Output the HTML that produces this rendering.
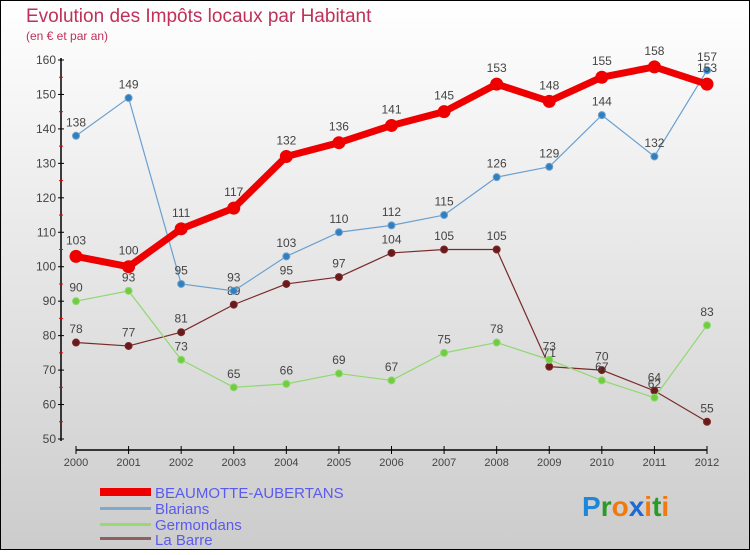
<!DOCTYPE html>
<html><head><meta charset="utf-8"><style>
body{margin:0;}
svg text{font-family:"Liberation Sans",sans-serif;}
</style></head><body>
<svg id="chart" width="750" height="550" xmlns="http://www.w3.org/2000/svg">
<defs><linearGradient id="bg" x1="0" y1="0" x2="0" y2="1"><stop offset="0" stop-color="#ffffff"/><stop offset="1" stop-color="#cccccc"/></linearGradient></defs>
<rect x="0.5" y="0.5" width="749" height="549" fill="url(#bg)" stroke="#000"/>
<text x="26" y="22" font-size="19" fill="#c0305a">Evolution des Impôts locaux par Habitant</text>
<text x="26" y="40" font-size="12" fill="#c0305a">(en € et par an)</text>
<g id="axes"></g>
<g id="series"></g>
<g>
<rect x="100" y="488" width="51" height="8" fill="#e00"/>
<text x="155" y="498" font-size="15" fill="#5a5af0">BEAUMOTTE-AUBERTANS</text>
<rect x="100" y="507" width="51" height="3" fill="#7aaad0"/>
<text x="155" y="514" font-size="15" fill="#5a5af0">Blarians</text>
<rect x="100" y="523" width="51" height="3" fill="#9ad870"/>
<text x="155" y="530" font-size="15" fill="#5a5af0">Germondans</text>
<rect x="100" y="537" width="51" height="3" fill="#906060"/>
<text x="155" y="545" font-size="15" fill="#5a5af0">La Barre</text>
</g>
<text x="582" y="516" font-size="28" font-weight="bold"><tspan fill="#1e88d8">P</tspan><tspan fill="#2a9a2a">r</tspan><tspan fill="#f07a10">o</tspan><tspan fill="#1e6ad0">x</tspan><tspan fill="#f07a10">i</tspan><tspan fill="#2a9a2a">t</tspan><tspan fill="#f07a10">i</tspan></text>
</svg>
<script>
const years=[2000,2001,2002,2003,2004,2005,2006,2007,2008,2009,2010,2011,2012];
const yTicks=[50,60,70,80,90,100,110,120,130,140,150,160];
const beaumotte=[103,100,111,117,132,136,141,145,153,148,155,158,153];
const blarians=[138,149,95,93,103,110,112,115,126,129,144,132,157];
const germondans=[90,93,73,65,66,69,67,75,78,73,67,62,83];
const labarre=[78,77,81,89,95,97,104,105,105,71,70,64,55];
const NS="http://www.w3.org/2000/svg";
const x=i=>76+i*(707-76)/(years.length-1);
const y=v=>439-(v-50)*(379/110);
function mk(tag,attrs,parent){const e=document.createElementNS(NS,tag);for(const k in attrs)e.setAttribute(k,attrs[k]);parent.appendChild(e);return e;}
const axes=document.getElementById('axes');
let e=mk('line',{x1:61,y1:58,x2:61,y2:441,stroke:'#000','stroke-width':1.5},axes);


e=mk('line',{x1:76,y1:450,x2:707,y2:450,stroke:'#000','stroke-width':1.5},axes);


yTicks.forEach(v=>{
 mk('line',{x1:58,y1:y(v),x2:64,y2:y(v),stroke:'#000'},axes);
 if(v<160) mk('line',{x1:59,y1:y(v+5),x2:63,y2:y(v+5),stroke:'#e00'},axes);
 const t=mk('text',{x:56,y:y(v)+4,'font-size':12,fill:'#444','text-anchor':'end'},axes);t.textContent=v;
 
 
});
years.forEach((yr,i)=>{
 mk('line',{x1:x(i),y1:446,x2:x(i),y2:454,stroke:'#000'},axes);
 const t=mk('text',{x:x(i),y:466,'font-size':11,fill:'#444','text-anchor':'middle'},axes);t.textContent=yr;
 
 
});
const sg=document.getElementById('series');
function draw(vals,name,color,w,r,fill){
 const g=mk('g',{},sg);
 
 
 const p=mk('polyline',{points:vals.map((v,i)=>x(i)+','+y(v)).join(' '),fill:'none',stroke:color,'stroke-width':w,'stroke-linejoin':'round'},g);
 
 
 vals.forEach((v,i)=>{
  const c=mk('circle',{cx:x(i),cy:y(v),r:r,fill:fill,stroke:color,'stroke-width':1},g);
  
  
  const t=mk('text',{x:x(i),y:y(v)-r-6,'font-size':12,fill:'#444','text-anchor':'middle'},g);t.textContent=v;
  
  
 });
}
draw(labarre,'labarre','#7a2a2a',1.2,3.5,'#6a1a1a');
draw(germondans,'germondans','#90d870',1.2,3.5,'#70cc40');
draw(blarians,'blarians','#6aa0d0',1.2,3.5,'#3080c0');
draw(beaumotte,'beaumotte','#ee0000',7,6,'#ee0000');
</script>
</body></html>
